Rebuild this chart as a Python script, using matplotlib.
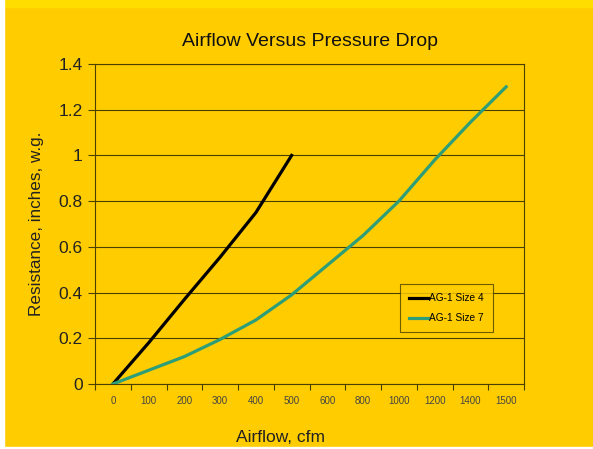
import matplotlib.pyplot as plt
from matplotlib.patches import Rectangle
from matplotlib.ticker import FixedLocator

plt.rcParams['font.family'] = ['Liberation Sans', 'DejaVu Sans']

# --------------------------------
# DATOS
# --------------------------------

categorias = ["0", "100", "200", "300", "400", "500",
              "600", "800", "1000", "1200", "1400", "1500"]

size4 = [0, 0.18, 0.37, 0.555, 0.75, 1.0]
size7 = [0, 0.06, 0.12, 0.195, 0.28, 0.39,
         0.52, 0.65, 0.80, 0.98, 1.145, 1.30]

fondo = "#FFCC00"

# --------------------------------
# FIGURA
# --------------------------------

fig = plt.figure(figsize=(5.93, 4.49), dpi=100, facecolor=fondo)

# banda superior y borde izquierdo
fig.patches.append(Rectangle((0, 1 - 7 / 449), 1, 7 / 449,
                             transform=fig.transFigure, color="#FFDD00", zorder=-1))
fig.patches.append(Rectangle((0, 0), 4 / 593, 1,
                             transform=fig.transFigure, color="white", zorder=-1))
fig.patches.append(Rectangle((0, 0), 1, 2 / 449,
                             transform=fig.transFigure, color="white", zorder=-1))

ax = fig.add_axes([95 / 593, 1 - 384 / 449, 429 / 593, 320 / 449])
ax.set_facecolor(fondo)

x4 = list(range(len(size4)))
x7 = list(range(len(size7)))

ax.plot(x4, size4, color="black", lw=2.3, label="AG-1 Size 4", zorder=3)
ax.plot(x7, size7, color="#2E9E78", lw=2.3, label="AG-1 Size 7", zorder=3)

# --------------------------------
# EJES
# --------------------------------

ax.set_xlim(-0.5, len(categorias) - 0.5)
ax.set_ylim(0, 1.4)

ax.set_yticks([0, 0.2, 0.4, 0.6, 0.8, 1.0, 1.2, 1.4])
ax.set_yticklabels(["0", "0.2", "0.4", "0.6", "0.8", "1", "1.2", "1.4"],
                   fontsize=12.5, color="#222222")

ax.xaxis.set_major_locator(FixedLocator([i - 0.5 for i in range(len(categorias) + 1)]))
ax.set_xticklabels([])
ax.xaxis.set_minor_locator(FixedLocator(list(range(len(categorias)))))
ax.set_xticklabels(categorias, minor=True, fontsize=7, color="#444444")
ax.tick_params(axis="x", which="major", length=4, width=0.8, color="#4a4000", direction="out")
ax.tick_params(axis="x", which="minor", length=0, pad=9)
ax.tick_params(axis="y", length=5, width=0.8, color="#4a4000", pad=4)

ax.grid(axis="y", color="#4a4000", lw=0.8)
ax.set_axisbelow(True)

for s in ax.spines.values():
    s.set_color("#4a4000")
    s.set_linewidth(0.8)

ax.set_ylabel("Resistance, inches, w.g.", fontsize=12.3, color="#222222")
ax.yaxis.set_label_coords((37 - 95) / 429, 0.5)
ax.set_xlabel("Airflow, cfm", fontsize=12.5, color="#222222")
ax.xaxis.set_label_coords((281 - 95) / 429, -(437 - 384) / 320)
ax.xaxis.label.set_va("center")
ax.yaxis.label.set_va("center")

ax.set_title("Airflow Versus Pressure Drop", fontsize=14, color="#111111", pad=13)

leg = ax.legend(loc="upper left", bbox_to_anchor=((400 - 95) / 429, (384 - 284) / 320),
                borderaxespad=0, fontsize=7.3, frameon=True, fancybox=False,
                handlelength=1.9, handletextpad=0.1, borderpad=0.9, labelspacing=1.0)
leg.get_frame().set_facecolor(fondo)
leg.get_frame().set_edgecolor("#4a4000")
leg.get_frame().set_linewidth(0.8)

plt.savefig("out.png", dpi=100, facecolor=fondo)
